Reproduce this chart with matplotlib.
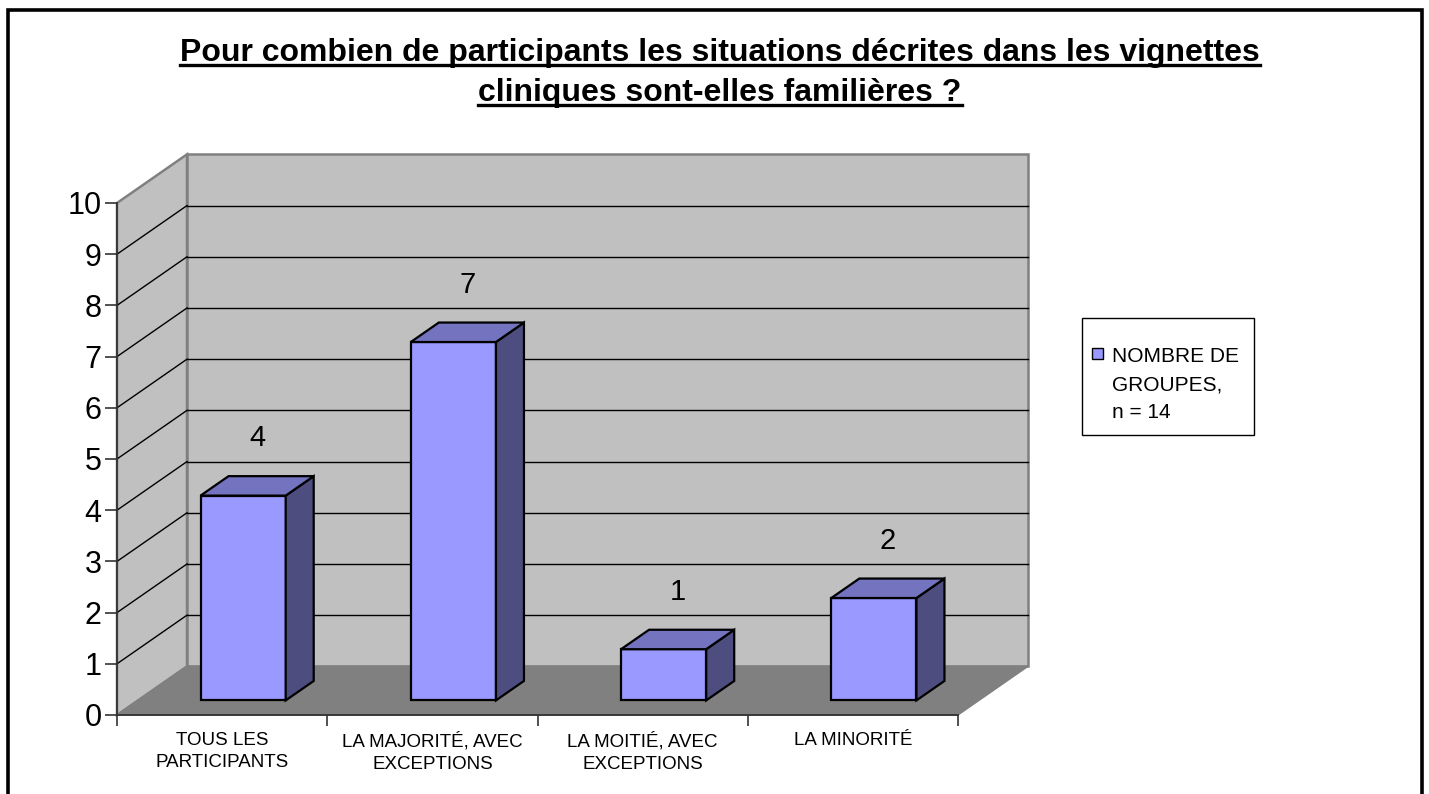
import matplotlib
matplotlib.use("Agg")
import matplotlib.pyplot as plt
from matplotlib.patches import Polygon, Rectangle
from matplotlib.lines import Line2D

plt.rcParams['font.family'] = ['Liberation Sans', 'DejaVu Sans']

# ---- data ----
categories = ["TOUS LES\nPARTICIPANTS", "LA MAJORITÉ, AVEC\nEXCEPTIONS",
              "LA MOITIÉ, AVEC\nEXCEPTIONS", "LA MINORITÉ"]
values = [4, 7, 1, 2]
yticks = list(range(0, 11))
series_label = "NOMBRE DE\nGROUPES,\nn = 14"
title_lines = ["Pour combien de participants les situations décrites dans les vignettes",
               "cliniques sont-elles familières ?"]

W, H = 1429, 794
fig = plt.figure(figsize=(W / 100, H / 100), dpi=100)

def fx(px):
    return px / W

def fy(py):
    return 1 - py / H

# outer frame
fig.add_artist(Rectangle((fx(8), -0.05), fx(1422) - fx(8), fy(10) + 0.05,
                         transform=fig.transFigure, fill=False, ec='black', lw=2.6))

ax = fig.add_axes([fx(117), fy(715), fx(958) - fx(117), fy(203) - fy(715)])
n = len(categories)
ymax = yticks[-1]
ax.set_xlim(0, n)
ax.set_ylim(yticks[0], ymax)
ax.patch.set_visible(False)

DX, DY = 0.333, 0.95  # oblique depth offset (x in categories, y in value units)

def P(x, y, z):
    return (x + z * DX, y + z * DY)

def face(pts, fc, ec, lw, z):
    ax.add_patch(Polygon(pts, closed=True, fc=fc, ec=ec, lw=lw, zorder=z,
                         clip_on=False, joinstyle='miter'))

# walls and floor
face([P(0, 0, 0), P(0, ymax, 0), P(0, ymax, 1), P(0, 0, 1)], '#C0C0C0', '#808080', 1.8, 0.5)
face([P(0, 0, 1), P(n, 0, 1), P(n, ymax, 1), P(0, ymax, 1)], '#C0C0C0', '#808080', 1.8, 0.5)
face([P(0, 0, 0), P(n, 0, 0), P(n, 0, 1), P(0, 0, 1)], '#808080', '#808080', 1.0, 0.6)

# gridlines
for k in yticks[1:-1]:
    a, b = P(0, k, 1), P(n, k, 1)
    ax.plot([a[0], b[0]], [a[1], b[1]], color='black', lw=1.0, zorder=0.7, clip_on=False)
    c = P(0, k, 0)
    ax.plot([c[0], a[0]], [c[1], a[1]], color='black', lw=1.0, zorder=0.7, clip_on=False)

# bars
bw = 0.405
z0, z1 = 0.3, 0.7
for i, v in enumerate(values):
    x0, x1 = i + 0.5 - bw / 2, i + 0.5 + bw / 2
    face([P(x0, 0, z0), P(x1, 0, z0), P(x1, v, z0), P(x0, v, z0)], '#9999FF', 'black', 1.6, 2)
    face([P(x1, 0, z0), P(x1, 0, z1), P(x1, v, z1), P(x1, v, z0)], '#4D4D80', 'black', 1.6, 2)
    face([P(x0, v, z0), P(x1, v, z0), P(x1, v, z1), P(x0, v, z1)], '#7373BF', 'black', 1.6, 2)
    lx, ly = P(i + 0.5, v + 0.93, 0.5)
    ax.text(lx, ly, f"{v}", ha='center', va='center', fontsize=21, color='black', zorder=3)

# axes styling
for s in ['top', 'right']:
    ax.spines[s].set_visible(False)
for s in ['left', 'bottom']:
    ax.spines[s].set_color('#333333')
    ax.spines[s].set_linewidth(1.3)
ax.set_yticks(yticks)
ax.tick_params(axis='y', direction='out', length=9, width=1.2, color='#333333',
               labelsize=22, pad=2)
ax.set_xticks(range(n + 1))
ax.set_xticklabels([])
ax.tick_params(axis='x', which='major', direction='out', length=8, width=1.2, color='#333333')
ax.set_xticks([i + 0.5 for i in range(n)], minor=True)
ax.set_xticklabels(categories, minor=True, fontsize=13.5, linespacing=1.42)
ax.tick_params(axis='x', which='minor', length=0, pad=12)

# title
tts = []
for j, line in enumerate(title_lines):
    t = fig.text(fx(720), fy(53 + 40 * j), line, ha='center', va='center',
                 fontsize=23, fontweight='bold')
    tts.append(t)

# legend (manual)
fig.add_artist(Rectangle((fx(1082), fy(435)), fx(1254) - fx(1082), fy(318) - fy(435),
                         transform=fig.transFigure, fill=True, fc='white', ec='black', lw=1.0))
fig.add_artist(Rectangle((fx(1092), fy(359)), fx(1103) - fx(1092), fy(348) - fy(359),
                         transform=fig.transFigure, fc='#9999FF', ec='black', lw=1.0))
for j, line in enumerate(series_label.split("\n")):
    fig.text(fx(1112), fy(361.5 + 28.5 * j), line, ha='left', va='baseline', fontsize=15)

fig.canvas.draw()
r = fig.canvas.get_renderer()
for t in tts:
    bb = t.get_window_extent(r)
    fig.add_artist(Line2D([bb.x0, bb.x1], [bb.y0 + 3, bb.y0 + 3], transform=None,
                          color='black', lw=2.4))

fig.savefig("out.png", dpi=100)
